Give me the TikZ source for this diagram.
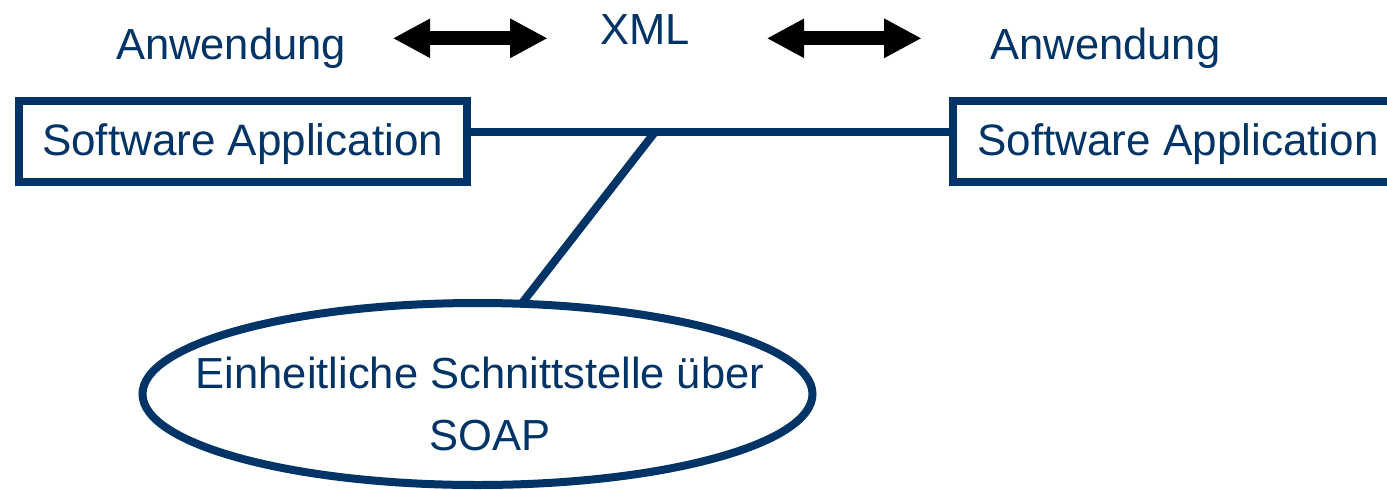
\documentclass[tikz,border=0pt]{standalone}
\usepackage{fontspec}
\setmainfont{Liberation Sans}
\usetikzlibrary{shapes.geometric,arrows.meta}
\definecolor{navy}{HTML}{003366}
\tikzset{
  x=1pt, y=-1pt,
  appbox/.style={draw=navy, line width=8pt, rectangle, outer sep=0pt, inner sep=0pt,
    minimum width=448pt, minimum height=81pt},
  soapell/.style={draw=navy, line width=8pt, ellipse, outer sep=0pt, inner sep=0pt,
    minimum width=670pt, minimum height=182pt},
  link/.style={draw=navy, line width=8pt},
  bodytext/.style={text=navy, anchor=base, inner sep=0pt, font=\fontsize{43.5}{52}\selectfont},
  boxtext/.style={bodytext, font=\fontsize{44}{52}\selectfont},
  bigarrow/.style={line width=14.3pt, draw=black,
    {Triangle[length=37.5pt, width=36.7pt]}-{Triangle[length=37.5pt, width=36.7pt]}}
}
\begin{document}
\begin{tikzpicture}
\useasboundingbox (0,0) rectangle (1387,490);
\clip (0,0) rectangle (1387,490);
% top labels
\node[bodytext] (anwL) at (231,59) {Anwendung};
\node[bodytext] (anwR) at (1105.5,59) {Anwendung};
\node[bodytext] (xml) at (645,44) {XML};
% double arrows
\coordinate (a1s) at (392.7,38.3);
\coordinate (a1e) at (547.7,38.3);
\coordinate (a2s) at (766.7,38.3);
\coordinate (a2e) at (921.7,38.3);
\draw[bigarrow] (a1s) -- (a1e);
\draw[bigarrow] (a2s) -- (a2e);
% boxes
\node[appbox] (appL) at (242.6,141.25) {};
\node[appbox] (appR) at (1177.3,141.25) {};
\node[boxtext] (tL) at (242.6,155) {Software Application};
\node[boxtext] (tR) at (1178,155) {Software Application};
% ellipse
\node[soapell] (soap) at (477.5,394) {};
\node[bodytext] (s1) at (480,388.3) {Einheitliche Schnittstelle über};
\node[bodytext] (s2) at (490,450) {SOAP};
% connectors
\coordinate (j) at (655.4,131.5);
\draw[link] (appL.east |- j) -- (appR.west |- j);
\draw[link] (j) -- (soap.64.8);
\end{tikzpicture}
\end{document}
